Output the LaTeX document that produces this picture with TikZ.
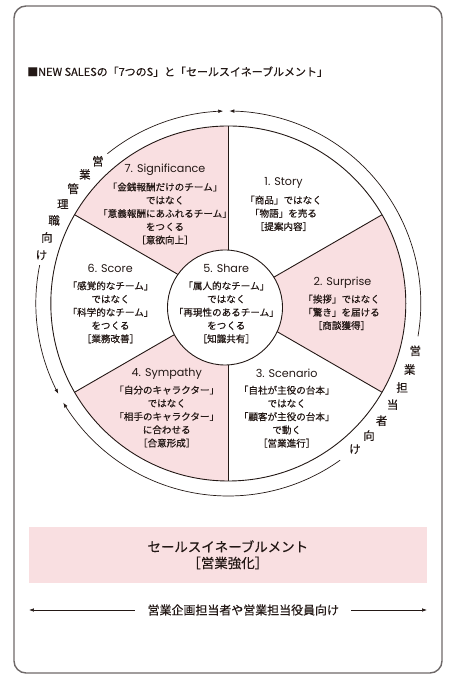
\documentclass[tikz,border=0pt]{standalone}
\usepackage{fontspec}
\setmainfont{Noto Sans CJK JP}[FakeBold=0.45]
\newfontfamily\popf{Poppins}
\usetikzlibrary{arrows.meta,calc,bending}

\definecolor{ink}{RGB}{35,24,21}
\definecolor{pinkc}{RGB}{249,223,225}
\definecolor{framec}{RGB}{110,105,105}

\tikzset{
  head/.style={font=\popf\fontsize{11.2}{13}\selectfont, text=ink, inner sep=0pt},
  body/.style={font=\fontsize{9.6}{13.3}\selectfont, text=ink, align=center, inner sep=0pt},
  arctext/.style={font=\fontsize{11.5}{11.5}\selectfont, text=ink, inner sep=0pt},
  ring/.style={draw=ink, line width=0.9pt},
  arrowarc/.style={draw=ink, line width=0.7pt, -{Latex[length=5pt,width=3.6pt]}},
  flatarrow/.style={draw=ink, line width=0.7pt},
}

\begin{document}
\begin{tikzpicture}[x=1bp,y=1bp]
\useasboundingbox (0,0) rectangle (458,685);
\def\R{177.5}
\def\Ra{192.5}
\def\ri{57.5}
\coordinate (C) at (228.3,381.5);
\coordinate (Ci) at (225,377.5);

% frame
\draw[framec, line width=1.4pt, rounded corners=12bp] (14,12) rectangle (442,679);

% title
\node[anchor=west, inner sep=0pt, text=ink, font=\fontsize{11}{12}\selectfont] (title) at (27,613.3)
  {■NEW SALESの「7つのS」と「セールスイネーブルメント」};

% pink wedges
\foreach \a/\b in {90/150, -30/30, 210/270} {
  \fill[pinkc] (C) -- ($(C)+(\a:\R)$) arc[start angle=\a, end angle=\b, radius=\R] -- cycle;
}
% spokes
\foreach \a in {90,30,-30,-90,210,150} {
  \draw[ring] (C) -- ($(C)+(\a:\R)$);
}
% outer and inner circles
\draw[ring] (C) circle[radius=\R];
\draw[ring, fill=white] (Ci) circle[radius=\ri];

% outer arrow arcs
\draw[arrowarc] ($(C)+(168.5:\Ra)$) arc[start angle=168.5, end angle=208, radius=\Ra];
\draw[arrowarc] ($(C)+(128.9:\Ra)$) arc[start angle=128.9, end angle=91.5, radius=\Ra];
\draw[arrowarc] ($(C)+(-9.8:\Ra)$) arc[start angle=-9.8, end angle=89.7, radius=\Ra];
\draw[arrowarc] ($(C)+(-54.5:\Ra)$) arc[start angle=-54.5, end angle=-149, radius=\Ra];

% arc texts
\foreach \t [count=\i] in {営,業,管,理,職,向,け} {
  \node[arctext] (lt\i) at ($(C)+({132.5+5.5*(\i-1)}:193)$) {\t};
}
\foreach \t [count=\i] in {営,業,担,当,者,向,け} {
  \node[arctext] (rt\i) at ($(C)+({-14.2-5.8*(\i-1)}:193)$) {\t};
}

% sector texts
\node[head] (h7) at (165,515.7) {7. Significance};
\node[body] (b7) at (165,471.5) {「金銭報酬だけのチーム」\\ではなく\\「意義報酬にあふれるチーム」\\をつくる\\［意欲向上］};

\node[head] (h1) at (283.5,501.7) {1. Story};
\node[body] (b1) at (283.5,471.7) {「商品」ではなく\\「物語」を売る\\［提案内容］};

\node[head] (h2) at (342.5,402.3) {2. Surprise};
\node[body] (b2) at (341.5,372.7) {「挨拶」ではなく\\「驚き」を届ける\\［商談獲得］};

\node[head] (h3) at (286.7,311.7) {3. Scenario};
\node[body] (b3) at (286.7,268.3) {「自社が主役の台本」\\ではなく\\「顧客が主役の台本」\\で動く\\［営業進行］};

\node[head] (h4) at (166.8,311.5) {4. Sympathy};
\node[body] (b4) at (166.7,268.5) {「自分のキャラクター」\\ではなく\\「相手のキャラクター」\\に合わせる\\［合意形成］};

\node[head] (h6) at (110.2,416.7) {6. Score};
\node[body] (b6) at (110.5,372.7) {「感覚的なチーム」\\ではなく\\「科学的なチーム」\\をつくる\\［業務改善］};

\node[head] (h5) at (226.3,416.7) {5. Share};
\node[body] (b5) at (226.3,372.7) {「属人的なチーム」\\ではなく\\「再現性のあるチーム」\\をつくる\\［知識共有］};

% bottom pink box
\fill[pinkc] (29,102.3) rectangle (426.7,158.3);
\node[text=ink, align=center, inner sep=0pt, font=\fontsize{13.5}{16.3}\selectfont] (enable) at (227.8,130.2)
  {セールスイネーブルメント\\［営業強化］};

% bottom arrow line
\coordinate (ba1) at (29,75);
\coordinate (ba2) at (427,75);
\node[text=ink, inner ysep=0pt, inner xsep=12bp, font=\fontsize{12}{12}\selectfont] (bt) at (243.3,75)
  {営業企画担当者や営業担当役員向け};
\draw[flatarrow, {Latex[length=5pt,width=3.6pt]}-] (ba1) -- (bt.west);
\draw[flatarrow, -{Latex[length=5pt,width=3.6pt]}] (bt.east) -- (ba2);
\end{tikzpicture}
\end{document}
